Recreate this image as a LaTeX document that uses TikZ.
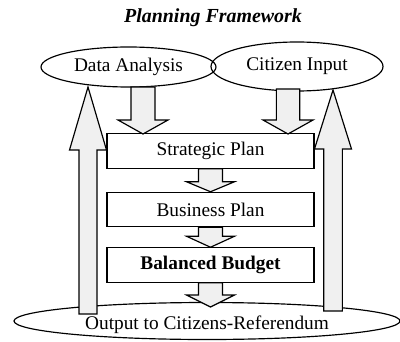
\documentclass[tikz,border=0pt]{standalone}
\usepackage{fontspec}
\setmainfont{Liberation Serif}
\usetikzlibrary{shapes.geometric,calc}

\begin{document}
\begin{tikzpicture}
  [x=0.03cm,y=-0.03cm,line width=1pt,
   every node/.style={font=\fontsize{16.5}{20}\selectfont},
   oval/.style={draw,ellipse,inner sep=0pt},
   plan/.style={draw,rectangle,minimum width=6.21cm,minimum height=1.03cm},
   barrow/.style={draw,fill=gray!12,line join=miter}]
  \useasboundingbox (0,0) rectangle (400,341);
  \node (title) at (213,18) {\fontsize{17}{20}\selectfont\bfseries\itshape Planning Framework};
  \node[oval,minimum width=11.58cm,minimum height=1.11cm] (out) at (207,321) {};
  \node (outtext) at (207,325) {Output to Citizens-Referendum};
  \node[oval,minimum width=5.25cm,minimum height=1.2cm] (da) at (128.5,67) {Data Analysis};
  \node[oval,minimum width=5.16cm,minimum height=1.47cm] (ci) at (297,66.5) {Citizen Input};
  \node[plan] (sp) at (210.5,151) {Strategic Plan};
  \node[plan] (bp) at (210.5,209.5) {Business Plan};
  \node[plan] (bb) at (210.5,265) {\bfseries Balanced Budget};
  % arrow ends
  \coordinate (a1) at (143,87);
  \coordinate (a2) at (143,134);
  \coordinate (b1) at (288,89);
  \coordinate (b2) at (288,134);
  \coordinate (c3) at (210.5,307);
  \coordinate (l1) at (88,314);
  \coordinate (l2) at (88,87);
  \coordinate (r1) at (333,311);
  \coordinate (r2) at (333,90);
  \foreach \from/\to/\sw/\hw/\hl in {a1/a2/.36/.75/.42, b1/b2/.35/.75/.42,
      sp.south/bp.north/.36/.72/.3, bp.south/bb.north/.36/.72/.33,
      bb.south/c3/.36/.72/.36, l1/l2/.27/.555/1.89, r1/r2/.28/.555/1.77}
  {
    \path ($(\to)!\hl cm!(\from)$) coordinate (hb);
    \draw[barrow] ($(\from)!\sw cm!90:(\to)$) -- ($(hb)!\sw cm!90:(\to)$)
      -- ($(hb)!\hw cm!90:(\to)$) -- (\to) -- ($(hb)!\hw cm!-90:(\to)$)
      -- ($(hb)!\sw cm!-90:(\to)$) -- ($(\from)!\sw cm!-90:(\to)$) -- cycle;
  }
\end{tikzpicture}
\end{document}
